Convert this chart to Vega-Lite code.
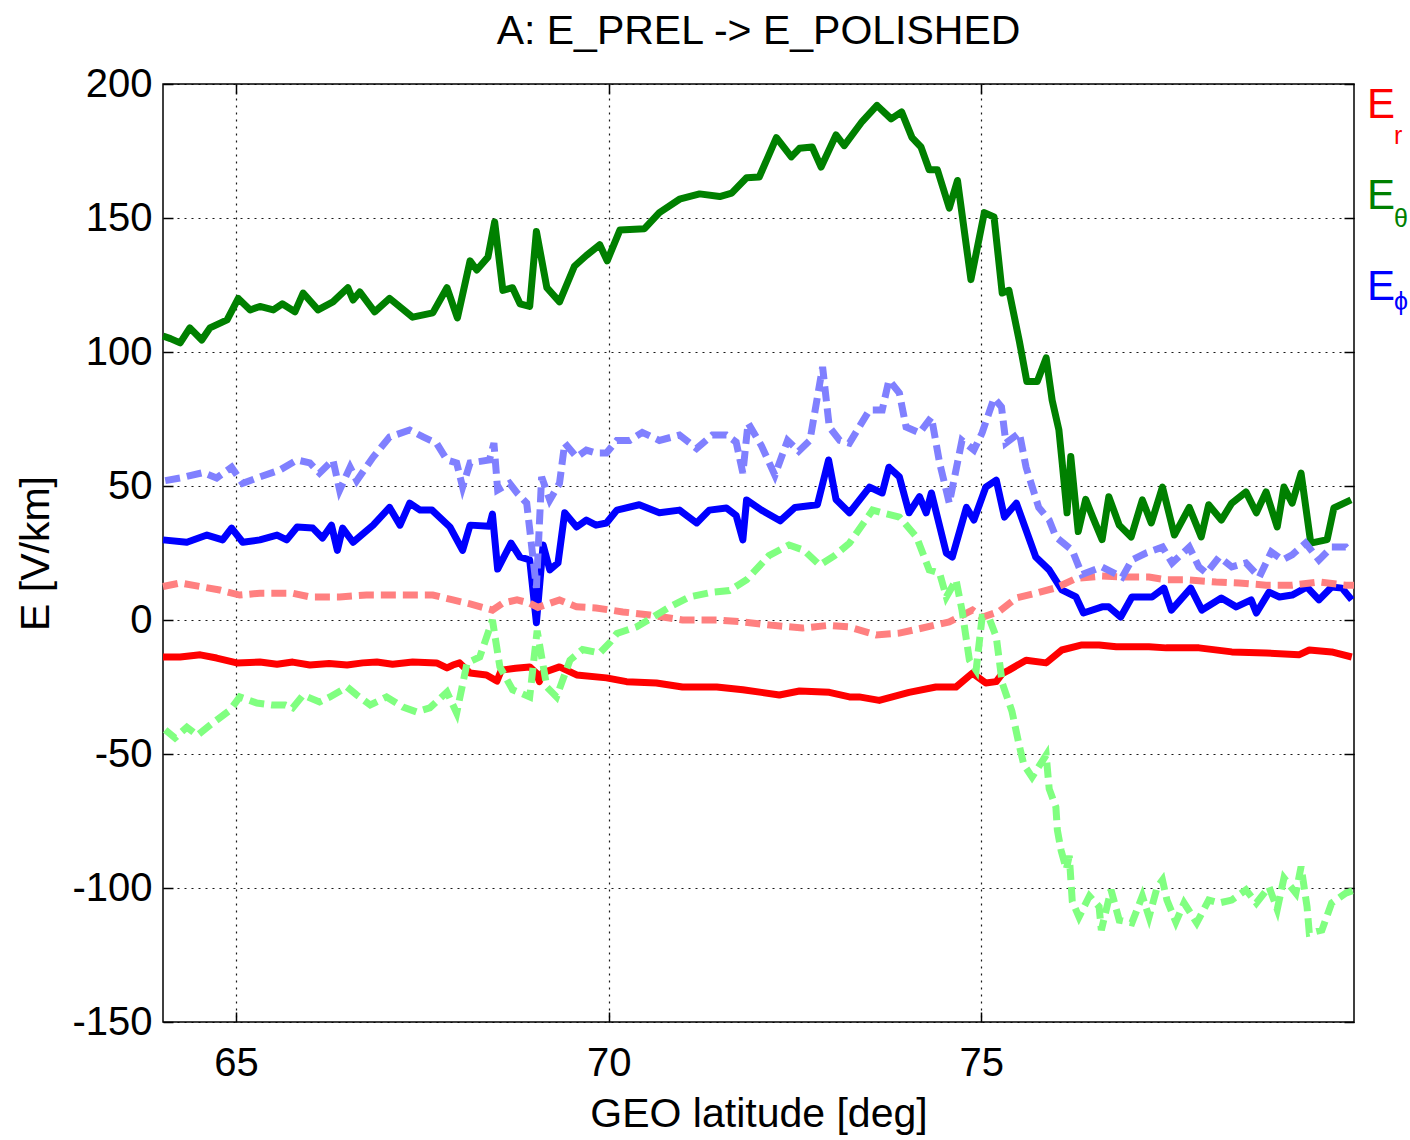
{
  "$schema": "https://vega.github.io/schema/vega-lite/v6.json",
  "width": 1191,
  "height": 938,
  "autosize": {"type": "none"},
  "padding": {"left": 163, "top": 84, "right": 56, "bottom": 118},
  "background": "white",
  "title": {"text": "A: E_PREL -> E_POLISHED", "font": "Liberation Sans", "fontSize": 41, "fontWeight": "normal", "color": "#000000", "anchor": "middle", "frame": "group", "baseline": "alphabetic", "offset": -21},
  "config": {"font": "Liberation Sans", "view": {"stroke": "#000000", "strokeWidth": 1.5}},
  "datasets": {
    "solid": [
      {"lat": 64.02, "E": -13.8, "c": "r"}, {"lat": 64.25, "E": -13.8, "c": "r"}, {"lat": 64.52, "E": -13, "c": "r"}, {"lat": 64.74, "E": -14.2, "c": "r"}, {"lat": 65.01, "E": -16, "c": "r"}, {"lat": 65.32, "E": -15.7, "c": "r"}, {"lat": 65.55, "E": -16.5, "c": "r"}, {"lat": 65.76, "E": -15.7, "c": "r"}, {"lat": 65.99, "E": -16.8, "c": "r"}, {"lat": 66.25, "E": -16.2, "c": "r"}, {"lat": 66.49, "E": -16.8, "c": "r"}, {"lat": 66.7, "E": -16, "c": "r"}, {"lat": 66.89, "E": -15.7, "c": "r"}, {"lat": 67.1, "E": -16.5, "c": "r"}, {"lat": 67.37, "E": -15.7, "c": "r"}, {"lat": 67.69, "E": -16, "c": "r"}, {"lat": 67.83, "E": -17.9, "c": "r"}, {"lat": 67.91, "E": -16.8, "c": "r"}, {"lat": 68.0, "E": -16, "c": "r"}, {"lat": 68.14, "E": -19.8, "c": "r"}, {"lat": 68.36, "E": -20.5, "c": "r"}, {"lat": 68.5, "E": -22.8, "c": "r"}, {"lat": 68.56, "E": -18.7, "c": "r"}, {"lat": 68.75, "E": -18, "c": "r"}, {"lat": 68.94, "E": -17.5, "c": "r"}, {"lat": 69.03, "E": -19.8, "c": "r"}, {"lat": 69.07, "E": -23, "c": "r"}, {"lat": 69.11, "E": -19.8, "c": "r"}, {"lat": 69.34, "E": -17.5, "c": "r"}, {"lat": 69.57, "E": -20.5, "c": "r"}, {"lat": 69.97, "E": -21.6, "c": "r"}, {"lat": 70.24, "E": -23, "c": "r"}, {"lat": 70.64, "E": -23.5, "c": "r"}, {"lat": 70.99, "E": -25, "c": "r"}, {"lat": 71.45, "E": -25, "c": "r"}, {"lat": 71.8, "E": -26, "c": "r"}, {"lat": 72.05, "E": -27, "c": "r"}, {"lat": 72.29, "E": -28, "c": "r"}, {"lat": 72.56, "E": -26.5, "c": "r"}, {"lat": 72.96, "E": -27, "c": "r"}, {"lat": 73.23, "E": -28.7, "c": "r"}, {"lat": 73.36, "E": -28.7, "c": "r"}, {"lat": 73.63, "E": -30, "c": "r"}, {"lat": 74.03, "E": -27, "c": "r"}, {"lat": 74.39, "E": -25, "c": "r"}, {"lat": 74.66, "E": -25, "c": "r"}, {"lat": 74.88, "E": -19.8, "c": "r"}, {"lat": 75.06, "E": -23.5, "c": "r"}, {"lat": 75.2, "E": -23, "c": "r"}, {"lat": 75.28, "E": -20, "c": "r"}, {"lat": 75.37, "E": -18.7, "c": "r"}, {"lat": 75.6, "E": -15, "c": "r"}, {"lat": 75.87, "E": -16, "c": "r"}, {"lat": 76.08, "E": -11.2, "c": "r"}, {"lat": 76.35, "E": -9.3, "c": "r"}, {"lat": 76.58, "E": -9.3, "c": "r"}, {"lat": 76.81, "E": -10, "c": "r"}, {"lat": 77.02, "E": -10, "c": "r"}, {"lat": 77.25, "E": -10, "c": "r"}, {"lat": 77.48, "E": -10.4, "c": "r"}, {"lat": 77.92, "E": -10.4, "c": "r"}, {"lat": 78.36, "E": -11.9, "c": "r"}, {"lat": 78.82, "E": -12.3, "c": "r"}, {"lat": 79.26, "E": -13, "c": "r"}, {"lat": 79.4, "E": -11.2, "c": "r"}, {"lat": 79.7, "E": -11.9, "c": "r"}, {"lat": 79.97, "E": -13.8, "c": "r"},

      {"lat": 64.02, "E": 106, "c": "θ"}, {"lat": 64.12, "E": 105, "c": "θ"}, {"lat": 64.25, "E": 103.4, "c": "θ"}, {"lat": 64.38, "E": 109, "c": "θ"}, {"lat": 64.54, "E": 104.5, "c": "θ"}, {"lat": 64.65, "E": 109, "c": "θ"}, {"lat": 64.88, "E": 112, "c": "θ"}, {"lat": 65.03, "E": 120, "c": "θ"}, {"lat": 65.19, "E": 115.7, "c": "θ"}, {"lat": 65.32, "E": 117, "c": "θ"}, {"lat": 65.5, "E": 115.7, "c": "θ"}, {"lat": 65.62, "E": 118, "c": "θ"}, {"lat": 65.79, "E": 115, "c": "θ"}, {"lat": 65.9, "E": 122, "c": "θ"}, {"lat": 66.1, "E": 115.7, "c": "θ"}, {"lat": 66.3, "E": 118.7, "c": "θ"}, {"lat": 66.5, "E": 124, "c": "θ"}, {"lat": 66.57, "E": 119.4, "c": "θ"}, {"lat": 66.66, "E": 122.4, "c": "θ"}, {"lat": 66.86, "E": 115, "c": "θ"}, {"lat": 67.06, "E": 120, "c": "θ"}, {"lat": 67.37, "E": 113, "c": "θ"}, {"lat": 67.64, "E": 114.6, "c": "θ"}, {"lat": 67.83, "E": 124, "c": "θ"}, {"lat": 67.97, "E": 112.7, "c": "θ"}, {"lat": 68.14, "E": 134, "c": "θ"}, {"lat": 68.23, "E": 130.6, "c": "θ"}, {"lat": 68.38, "E": 135.4, "c": "θ"}, {"lat": 68.47, "E": 148.5, "c": "θ"}, {"lat": 68.58, "E": 123, "c": "θ"}, {"lat": 68.71, "E": 124, "c": "θ"}, {"lat": 68.81, "E": 118, "c": "θ"}, {"lat": 68.94, "E": 117, "c": "θ"}, {"lat": 69.03, "E": 145, "c": "θ"}, {"lat": 69.17, "E": 124, "c": "θ"}, {"lat": 69.34, "E": 118.7, "c": "θ"}, {"lat": 69.54, "E": 132, "c": "θ"}, {"lat": 69.7, "E": 136, "c": "θ"}, {"lat": 69.88, "E": 140, "c": "θ"}, {"lat": 69.98, "E": 134, "c": "θ"}, {"lat": 70.15, "E": 145.5, "c": "θ"}, {"lat": 70.48, "E": 146, "c": "θ"}, {"lat": 70.68, "E": 152, "c": "θ"}, {"lat": 70.95, "E": 157, "c": "θ"}, {"lat": 71.22, "E": 159, "c": "θ"}, {"lat": 71.49, "E": 158, "c": "θ"}, {"lat": 71.65, "E": 159.3, "c": "θ"}, {"lat": 71.85, "E": 165, "c": "θ"}, {"lat": 72.02, "E": 165.3, "c": "θ"}, {"lat": 72.25, "E": 180, "c": "θ"}, {"lat": 72.45, "E": 172.8, "c": "θ"}, {"lat": 72.56, "E": 176, "c": "θ"}, {"lat": 72.73, "E": 176.5, "c": "θ"}, {"lat": 72.85, "E": 169, "c": "θ"}, {"lat": 73.05, "E": 181, "c": "θ"}, {"lat": 73.16, "E": 177, "c": "θ"}, {"lat": 73.4, "E": 186, "c": "θ"}, {"lat": 73.6, "E": 192, "c": "θ"}, {"lat": 73.79, "E": 187, "c": "θ"}, {"lat": 73.93, "E": 189.6, "c": "θ"}, {"lat": 74.07, "E": 180, "c": "θ"}, {"lat": 74.19, "E": 176.5, "c": "θ"}, {"lat": 74.3, "E": 168, "c": "θ"}, {"lat": 74.41, "E": 168, "c": "θ"}, {"lat": 74.57, "E": 153.7, "c": "θ"}, {"lat": 74.68, "E": 164, "c": "θ"}, {"lat": 74.86, "E": 127, "c": "θ"}, {"lat": 75.04, "E": 152, "c": "θ"}, {"lat": 75.17, "E": 150.4, "c": "θ"}, {"lat": 75.28, "E": 122, "c": "θ"}, {"lat": 75.37, "E": 123, "c": "θ"}, {"lat": 75.51, "E": 104, "c": "θ"}, {"lat": 75.61, "E": 89, "c": "θ"}, {"lat": 75.75, "E": 89, "c": "θ"}, {"lat": 75.87, "E": 97.8, "c": "θ"}, {"lat": 75.95, "E": 82, "c": "θ"}, {"lat": 76.04, "E": 71, "c": "θ"}, {"lat": 76.08, "E": 60, "c": "θ"}, {"lat": 76.15, "E": 40, "c": "θ"}, {"lat": 76.2, "E": 61, "c": "θ"}, {"lat": 76.3, "E": 33, "c": "θ"}, {"lat": 76.4, "E": 45, "c": "θ"}, {"lat": 76.5, "E": 38, "c": "θ"}, {"lat": 76.62, "E": 30, "c": "θ"}, {"lat": 76.71, "E": 46, "c": "θ"}, {"lat": 76.85, "E": 35.4, "c": "θ"}, {"lat": 77.01, "E": 31, "c": "θ"}, {"lat": 77.16, "E": 44.8, "c": "θ"}, {"lat": 77.28, "E": 36.2, "c": "θ"}, {"lat": 77.43, "E": 49.6, "c": "θ"}, {"lat": 77.59, "E": 31.7, "c": "θ"}, {"lat": 77.79, "E": 42, "c": "θ"}, {"lat": 77.95, "E": 31, "c": "θ"}, {"lat": 78.05, "E": 43, "c": "θ"}, {"lat": 78.22, "E": 37.3, "c": "θ"}, {"lat": 78.36, "E": 43.6, "c": "θ"}, {"lat": 78.55, "E": 47.8, "c": "θ"}, {"lat": 78.69, "E": 40, "c": "θ"}, {"lat": 78.82, "E": 47.8, "c": "θ"}, {"lat": 78.97, "E": 34.7, "c": "θ"}, {"lat": 79.06, "E": 49.6, "c": "θ"}, {"lat": 79.17, "E": 43.6, "c": "θ"}, {"lat": 79.29, "E": 54.8, "c": "θ"}, {"lat": 79.42, "E": 28.7, "c": "θ"}, {"lat": 79.64, "E": 30, "c": "θ"}, {"lat": 79.73, "E": 41.8, "c": "θ"}, {"lat": 79.96, "E": 44.8, "c": "θ"},

      {"lat": 64.02, "E": 29.9, "c": "φ"}, {"lat": 64.34, "E": 29, "c": "φ"}, {"lat": 64.61, "E": 31.7, "c": "φ"}, {"lat": 64.82, "E": 29.9, "c": "φ"}, {"lat": 64.94, "E": 34.3, "c": "φ"}, {"lat": 65.09, "E": 29, "c": "φ"}, {"lat": 65.32, "E": 29.9, "c": "φ"}, {"lat": 65.55, "E": 31.7, "c": "φ"}, {"lat": 65.68, "E": 29.9, "c": "φ"}, {"lat": 65.82, "E": 34.7, "c": "φ"}, {"lat": 66.03, "E": 34.3, "c": "φ"}, {"lat": 66.16, "E": 30.6, "c": "φ"}, {"lat": 66.28, "E": 35.4, "c": "φ"}, {"lat": 66.36, "E": 26, "c": "φ"}, {"lat": 66.43, "E": 34.3, "c": "φ"}, {"lat": 66.57, "E": 29, "c": "φ"}, {"lat": 66.84, "E": 35.4, "c": "φ"}, {"lat": 67.06, "E": 42, "c": "φ"}, {"lat": 67.2, "E": 35.4, "c": "φ"}, {"lat": 67.33, "E": 43.6, "c": "φ"}, {"lat": 67.47, "E": 41, "c": "φ"}, {"lat": 67.63, "E": 41, "c": "φ"}, {"lat": 67.87, "E": 34.7, "c": "φ"}, {"lat": 68.04, "E": 26, "c": "φ"}, {"lat": 68.14, "E": 35.4, "c": "φ"}, {"lat": 68.4, "E": 35, "c": "φ"}, {"lat": 68.44, "E": 39.5, "c": "φ"}, {"lat": 68.51, "E": 19, "c": "φ"}, {"lat": 68.69, "E": 28.7, "c": "φ"}, {"lat": 68.81, "E": 23.5, "c": "φ"}, {"lat": 68.94, "E": 22.4, "c": "φ"}, {"lat": 69.03, "E": -1, "c": "φ"}, {"lat": 69.12, "E": 28, "c": "φ"}, {"lat": 69.21, "E": 18.7, "c": "φ"}, {"lat": 69.32, "E": 21.3, "c": "φ"}, {"lat": 69.41, "E": 40, "c": "φ"}, {"lat": 69.57, "E": 34.7, "c": "φ"}, {"lat": 69.7, "E": 37.3, "c": "φ"}, {"lat": 69.83, "E": 35.4, "c": "φ"}, {"lat": 69.97, "E": 36.2, "c": "φ"}, {"lat": 70.11, "E": 41, "c": "φ"}, {"lat": 70.41, "E": 43, "c": "φ"}, {"lat": 70.68, "E": 40, "c": "φ"}, {"lat": 70.95, "E": 41, "c": "φ"}, {"lat": 71.18, "E": 36.2, "c": "φ"}, {"lat": 71.35, "E": 41, "c": "φ"}, {"lat": 71.58, "E": 41.8, "c": "φ"}, {"lat": 71.71, "E": 39, "c": "φ"}, {"lat": 71.8, "E": 29.9, "c": "φ"}, {"lat": 71.85, "E": 44.8, "c": "φ"}, {"lat": 72.05, "E": 41, "c": "φ"}, {"lat": 72.3, "E": 37, "c": "φ"}, {"lat": 72.5, "E": 42, "c": "φ"}, {"lat": 72.8, "E": 43, "c": "φ"}, {"lat": 72.95, "E": 59.7, "c": "φ"}, {"lat": 73.05, "E": 45, "c": "φ"}, {"lat": 73.23, "E": 40, "c": "φ"}, {"lat": 73.5, "E": 49.6, "c": "φ"}, {"lat": 73.67, "E": 47.4, "c": "φ"}, {"lat": 73.76, "E": 57, "c": "φ"}, {"lat": 73.9, "E": 53.4, "c": "φ"}, {"lat": 74.03, "E": 40, "c": "φ"}, {"lat": 74.17, "E": 46, "c": "φ"}, {"lat": 74.26, "E": 40, "c": "φ"}, {"lat": 74.33, "E": 47.4, "c": "φ"}, {"lat": 74.53, "E": 25, "c": "φ"}, {"lat": 74.61, "E": 23.5, "c": "φ"}, {"lat": 74.8, "E": 42, "c": "φ"}, {"lat": 74.9, "E": 37.3, "c": "φ"}, {"lat": 75.06, "E": 49.6, "c": "φ"}, {"lat": 75.2, "E": 52.2, "c": "φ"}, {"lat": 75.31, "E": 38.4, "c": "φ"}, {"lat": 75.47, "E": 43.6, "c": "φ"}, {"lat": 75.73, "E": 23.5, "c": "φ"}, {"lat": 75.91, "E": 18.7, "c": "φ"}, {"lat": 76.08, "E": 11.2, "c": "φ"}, {"lat": 76.27, "E": 8.6, "c": "φ"}, {"lat": 76.37, "E": 2.6, "c": "φ"}, {"lat": 76.62, "E": 4.9, "c": "φ"}, {"lat": 76.71, "E": 4.9, "c": "φ"}, {"lat": 76.87, "E": 1.1, "c": "φ"}, {"lat": 77.02, "E": 8.6, "c": "φ"}, {"lat": 77.29, "E": 8.6, "c": "φ"}, {"lat": 77.45, "E": 11.9, "c": "φ"}, {"lat": 77.55, "E": 3.7, "c": "φ"}, {"lat": 77.81, "E": 11.9, "c": "φ"}, {"lat": 77.96, "E": 3.7, "c": "φ"}, {"lat": 78.22, "E": 8.2, "c": "φ"}, {"lat": 78.42, "E": 4.9, "c": "φ"}, {"lat": 78.62, "E": 7.5, "c": "φ"}, {"lat": 78.69, "E": 2.6, "c": "φ"}, {"lat": 78.86, "E": 10.4, "c": "φ"}, {"lat": 79.0, "E": 8.6, "c": "φ"}, {"lat": 79.17, "E": 9.3, "c": "φ"}, {"lat": 79.37, "E": 12.3, "c": "φ"}, {"lat": 79.53, "E": 7.5, "c": "φ"}, {"lat": 79.7, "E": 12.3, "c": "φ"}, {"lat": 79.84, "E": 11.9, "c": "φ"}, {"lat": 79.97, "E": 7.5, "c": "φ"}
    ],
    "dashed": [
      {"lat": 64.02, "E": 12.5, "c": "r"}, {"lat": 64.25, "E": 13.8, "c": "r"}, {"lat": 64.56, "E": 12.3, "c": "r"}, {"lat": 64.78, "E": 11.2, "c": "r"}, {"lat": 65.05, "E": 9.3, "c": "r"}, {"lat": 65.32, "E": 10, "c": "r"}, {"lat": 65.76, "E": 10, "c": "r"}, {"lat": 65.99, "E": 8.6, "c": "r"}, {"lat": 66.39, "E": 8.6, "c": "r"}, {"lat": 66.75, "E": 9.3, "c": "r"}, {"lat": 67.2, "E": 9.3, "c": "r"}, {"lat": 67.64, "E": 9.3, "c": "r"}, {"lat": 67.91, "E": 7.5, "c": "r"}, {"lat": 68.14, "E": 6, "c": "r"}, {"lat": 68.44, "E": 3.7, "c": "r"}, {"lat": 68.58, "E": 6.3, "c": "r"}, {"lat": 68.77, "E": 7.5, "c": "r"}, {"lat": 68.94, "E": 6.3, "c": "r"}, {"lat": 69.05, "E": 4.7, "c": "r"}, {"lat": 69.34, "E": 7.5, "c": "r"}, {"lat": 69.57, "E": 4.9, "c": "r"}, {"lat": 69.83, "E": 4.5, "c": "r"}, {"lat": 70.19, "E": 3, "c": "r"}, {"lat": 70.55, "E": 1.9, "c": "r"}, {"lat": 70.99, "E": 0, "c": "r"}, {"lat": 71.45, "E": 0, "c": "r"}, {"lat": 71.8, "E": -0.7, "c": "r"}, {"lat": 72.2, "E": -2, "c": "r"}, {"lat": 72.6, "E": -3, "c": "r"}, {"lat": 72.95, "E": -2, "c": "r"}, {"lat": 73.23, "E": -2.6, "c": "r"}, {"lat": 73.59, "E": -5.6, "c": "r"}, {"lat": 73.9, "E": -4.9, "c": "r"}, {"lat": 74.21, "E": -3, "c": "r"}, {"lat": 74.57, "E": -0.7, "c": "r"}, {"lat": 74.88, "E": 3.7, "c": "r"}, {"lat": 75.01, "E": 1, "c": "r"}, {"lat": 75.24, "E": 3.2, "c": "r"}, {"lat": 75.47, "E": 8.2, "c": "r"}, {"lat": 75.73, "E": 10, "c": "r"}, {"lat": 76.0, "E": 12, "c": "r"}, {"lat": 76.27, "E": 15.5, "c": "r"}, {"lat": 76.62, "E": 16.4, "c": "r"}, {"lat": 76.98, "E": 16, "c": "r"}, {"lat": 77.25, "E": 16, "c": "r"}, {"lat": 77.48, "E": 15, "c": "r"}, {"lat": 77.74, "E": 15, "c": "r"}, {"lat": 78.15, "E": 14.2, "c": "r"}, {"lat": 78.46, "E": 13.8, "c": "r"}, {"lat": 78.82, "E": 13, "c": "r"}, {"lat": 79.17, "E": 13, "c": "r"}, {"lat": 79.53, "E": 14.2, "c": "r"}, {"lat": 79.89, "E": 13, "c": "r"}, {"lat": 80.0, "E": 13, "c": "r"},

      {"lat": 64.05, "E": -41, "c": "θ"}, {"lat": 64.18, "E": -44, "c": "θ"}, {"lat": 64.34, "E": -40, "c": "θ"}, {"lat": 64.48, "E": -43, "c": "θ"}, {"lat": 64.69, "E": -38.4, "c": "θ"}, {"lat": 64.92, "E": -33.6, "c": "θ"}, {"lat": 65.05, "E": -28.7, "c": "θ"}, {"lat": 65.28, "E": -31, "c": "θ"}, {"lat": 65.48, "E": -31.7, "c": "θ"}, {"lat": 65.66, "E": -31.7, "c": "θ"}, {"lat": 65.76, "E": -32.8, "c": "θ"}, {"lat": 65.9, "E": -28, "c": "θ"}, {"lat": 66.12, "E": -30.6, "c": "θ"}, {"lat": 66.26, "E": -28.7, "c": "θ"}, {"lat": 66.49, "E": -25, "c": "θ"}, {"lat": 66.62, "E": -28, "c": "θ"}, {"lat": 66.8, "E": -31.7, "c": "θ"}, {"lat": 67.02, "E": -28.7, "c": "θ"}, {"lat": 67.24, "E": -32.5, "c": "θ"}, {"lat": 67.42, "E": -34.3, "c": "θ"}, {"lat": 67.6, "E": -32.8, "c": "θ"}, {"lat": 67.83, "E": -26.9, "c": "θ"}, {"lat": 67.96, "E": -34.7, "c": "θ"}, {"lat": 68.1, "E": -16, "c": "θ"}, {"lat": 68.27, "E": -13.8, "c": "θ"}, {"lat": 68.44, "E": 0, "c": "θ"}, {"lat": 68.54, "E": -17.5, "c": "θ"}, {"lat": 68.71, "E": -26, "c": "θ"}, {"lat": 68.94, "E": -28.7, "c": "θ"}, {"lat": 69.04, "E": -4, "c": "θ"}, {"lat": 69.17, "E": -25, "c": "θ"}, {"lat": 69.3, "E": -28.7, "c": "θ"}, {"lat": 69.48, "E": -15, "c": "θ"}, {"lat": 69.65, "E": -11, "c": "θ"}, {"lat": 69.88, "E": -12.3, "c": "θ"}, {"lat": 70.01, "E": -8.6, "c": "θ"}, {"lat": 70.11, "E": -5, "c": "θ"}, {"lat": 70.37, "E": -2.6, "c": "θ"}, {"lat": 70.59, "E": 1, "c": "θ"}, {"lat": 70.82, "E": 4.9, "c": "θ"}, {"lat": 71.08, "E": 8.6, "c": "θ"}, {"lat": 71.39, "E": 10.4, "c": "θ"}, {"lat": 71.62, "E": 11, "c": "θ"}, {"lat": 71.85, "E": 15, "c": "θ"}, {"lat": 72.15, "E": 24, "c": "θ"}, {"lat": 72.42, "E": 28, "c": "θ"}, {"lat": 72.62, "E": 26, "c": "θ"}, {"lat": 72.83, "E": 20.5, "c": "θ"}, {"lat": 73.03, "E": 24, "c": "θ"}, {"lat": 73.23, "E": 28.7, "c": "θ"}, {"lat": 73.54, "E": 41, "c": "θ"}, {"lat": 73.67, "E": 40, "c": "θ"}, {"lat": 73.9, "E": 38.4, "c": "θ"}, {"lat": 74.13, "E": 31, "c": "θ"}, {"lat": 74.3, "E": 18.7, "c": "θ"}, {"lat": 74.44, "E": 17.5, "c": "θ"}, {"lat": 74.53, "E": 8.6, "c": "θ"}, {"lat": 74.66, "E": 15, "c": "θ"}, {"lat": 74.74, "E": 3.7, "c": "θ"}, {"lat": 74.84, "E": -15, "c": "θ"}, {"lat": 74.93, "E": -18.7, "c": "θ"}, {"lat": 75.01, "E": 1, "c": "θ"}, {"lat": 75.1, "E": 1, "c": "θ"}, {"lat": 75.2, "E": -6.3, "c": "θ"}, {"lat": 75.28, "E": -23.5, "c": "θ"}, {"lat": 75.41, "E": -34, "c": "θ"}, {"lat": 75.51, "E": -47, "c": "θ"}, {"lat": 75.57, "E": -54, "c": "θ"}, {"lat": 75.68, "E": -58.6, "c": "θ"}, {"lat": 75.87, "E": -50.4, "c": "θ"}, {"lat": 75.91, "E": -63, "c": "θ"}, {"lat": 76.0, "E": -69.8, "c": "θ"}, {"lat": 76.02, "E": -78.4, "c": "θ"}, {"lat": 76.07, "E": -86, "c": "θ"}, {"lat": 76.14, "E": -93, "c": "θ"}, {"lat": 76.18, "E": -88, "c": "θ"}, {"lat": 76.22, "E": -105, "c": "θ"}, {"lat": 76.31, "E": -110.8, "c": "θ"}, {"lat": 76.45, "E": -103, "c": "θ"}, {"lat": 76.58, "E": -107, "c": "θ"}, {"lat": 76.61, "E": -115.7, "c": "θ"}, {"lat": 76.74, "E": -100.7, "c": "θ"}, {"lat": 76.85, "E": -112, "c": "θ"}, {"lat": 77.02, "E": -113, "c": "θ"}, {"lat": 77.16, "E": -103, "c": "θ"}, {"lat": 77.25, "E": -110.8, "c": "θ"}, {"lat": 77.36, "E": -99.6, "c": "θ"}, {"lat": 77.43, "E": -97, "c": "θ"}, {"lat": 77.49, "E": -104.5, "c": "θ"}, {"lat": 77.61, "E": -112.7, "c": "θ"}, {"lat": 77.72, "E": -105.6, "c": "θ"}, {"lat": 77.89, "E": -113, "c": "θ"}, {"lat": 78.05, "E": -104.5, "c": "θ"}, {"lat": 78.19, "E": -105.6, "c": "θ"}, {"lat": 78.36, "E": -104.5, "c": "θ"}, {"lat": 78.55, "E": -100.7, "c": "θ"}, {"lat": 78.69, "E": -105.6, "c": "θ"}, {"lat": 78.86, "E": -99.6, "c": "θ"}, {"lat": 78.97, "E": -108, "c": "θ"}, {"lat": 79.06, "E": -96.3, "c": "θ"}, {"lat": 79.22, "E": -101.9, "c": "θ"}, {"lat": 79.29, "E": -92, "c": "θ"}, {"lat": 79.37, "E": -107, "c": "θ"}, {"lat": 79.4, "E": -116.8, "c": "θ"}, {"lat": 79.57, "E": -115.7, "c": "θ"}, {"lat": 79.7, "E": -105.6, "c": "θ"}, {"lat": 79.89, "E": -101.9, "c": "θ"}, {"lat": 79.98, "E": -101, "c": "θ"},

      {"lat": 64.05, "E": 52, "c": "φ"}, {"lat": 64.25, "E": 53, "c": "φ"}, {"lat": 64.56, "E": 55, "c": "φ"}, {"lat": 64.74, "E": 53, "c": "φ"}, {"lat": 64.94, "E": 57, "c": "φ"}, {"lat": 65.09, "E": 51, "c": "φ"}, {"lat": 65.32, "E": 53.4, "c": "φ"}, {"lat": 65.59, "E": 56, "c": "φ"}, {"lat": 65.82, "E": 59.7, "c": "φ"}, {"lat": 65.99, "E": 58.6, "c": "φ"}, {"lat": 66.12, "E": 54.8, "c": "φ"}, {"lat": 66.3, "E": 59.7, "c": "φ"}, {"lat": 66.39, "E": 48.5, "c": "φ"}, {"lat": 66.53, "E": 57, "c": "φ"}, {"lat": 66.62, "E": 52, "c": "φ"}, {"lat": 66.84, "E": 60.8, "c": "φ"}, {"lat": 67.06, "E": 68.3, "c": "φ"}, {"lat": 67.33, "E": 70.9, "c": "φ"}, {"lat": 67.51, "E": 68.3, "c": "φ"}, {"lat": 67.69, "E": 66, "c": "φ"}, {"lat": 67.83, "E": 59.7, "c": "φ"}, {"lat": 67.96, "E": 58.6, "c": "φ"}, {"lat": 68.04, "E": 49.6, "c": "φ"}, {"lat": 68.14, "E": 58.6, "c": "φ"}, {"lat": 68.4, "E": 59.7, "c": "φ"}, {"lat": 68.46, "E": 66, "c": "φ"}, {"lat": 68.51, "E": 48.5, "c": "φ"}, {"lat": 68.67, "E": 51, "c": "φ"}, {"lat": 68.77, "E": 47.4, "c": "φ"}, {"lat": 68.9, "E": 43.6, "c": "φ"}, {"lat": 69.03, "E": 12, "c": "φ"}, {"lat": 69.1, "E": 53.4, "c": "φ"}, {"lat": 69.21, "E": 44.8, "c": "φ"}, {"lat": 69.34, "E": 51, "c": "φ"}, {"lat": 69.41, "E": 66, "c": "φ"}, {"lat": 69.57, "E": 60.8, "c": "φ"}, {"lat": 69.7, "E": 63.4, "c": "φ"}, {"lat": 69.83, "E": 62.3, "c": "φ"}, {"lat": 69.97, "E": 62.3, "c": "φ"}, {"lat": 70.11, "E": 67, "c": "φ"}, {"lat": 70.28, "E": 67, "c": "φ"}, {"lat": 70.45, "E": 70, "c": "φ"}, {"lat": 70.68, "E": 67, "c": "φ"}, {"lat": 70.95, "E": 69, "c": "φ"}, {"lat": 71.18, "E": 64, "c": "φ"}, {"lat": 71.39, "E": 69, "c": "φ"}, {"lat": 71.58, "E": 69, "c": "φ"}, {"lat": 71.71, "E": 66.4, "c": "φ"}, {"lat": 71.8, "E": 54.8, "c": "φ"}, {"lat": 71.87, "E": 73.5, "c": "φ"}, {"lat": 72.05, "E": 65, "c": "φ"}, {"lat": 72.23, "E": 54, "c": "φ"}, {"lat": 72.4, "E": 67, "c": "φ"}, {"lat": 72.55, "E": 63, "c": "φ"}, {"lat": 72.7, "E": 67, "c": "φ"}, {"lat": 72.87, "E": 94.4, "c": "φ"}, {"lat": 72.96, "E": 72, "c": "φ"}, {"lat": 73.1, "E": 67, "c": "φ"}, {"lat": 73.23, "E": 66, "c": "φ"}, {"lat": 73.5, "E": 78.4, "c": "φ"}, {"lat": 73.67, "E": 78.4, "c": "φ"}, {"lat": 73.76, "E": 89.5, "c": "φ"}, {"lat": 73.9, "E": 84.7, "c": "φ"}, {"lat": 73.99, "E": 72, "c": "φ"}, {"lat": 74.17, "E": 69.8, "c": "φ"}, {"lat": 74.33, "E": 75.7, "c": "φ"}, {"lat": 74.44, "E": 58.6, "c": "φ"}, {"lat": 74.57, "E": 43.6, "c": "φ"}, {"lat": 74.74, "E": 67, "c": "φ"}, {"lat": 74.9, "E": 63.4, "c": "φ"}, {"lat": 75.01, "E": 69.8, "c": "φ"}, {"lat": 75.17, "E": 82.8, "c": "φ"}, {"lat": 75.27, "E": 79.5, "c": "φ"}, {"lat": 75.33, "E": 66, "c": "φ"}, {"lat": 75.51, "E": 69.8, "c": "φ"}, {"lat": 75.6, "E": 57, "c": "φ"}, {"lat": 75.77, "E": 42, "c": "φ"}, {"lat": 75.91, "E": 37.3, "c": "φ"}, {"lat": 76.0, "E": 31, "c": "φ"}, {"lat": 76.22, "E": 26, "c": "φ"}, {"lat": 76.35, "E": 17, "c": "φ"}, {"lat": 76.62, "E": 19.8, "c": "φ"}, {"lat": 76.89, "E": 16, "c": "φ"}, {"lat": 77.02, "E": 22.4, "c": "φ"}, {"lat": 77.21, "E": 25, "c": "φ"}, {"lat": 77.43, "E": 27.2, "c": "φ"}, {"lat": 77.56, "E": 21.3, "c": "φ"}, {"lat": 77.79, "E": 27.2, "c": "φ"}, {"lat": 77.92, "E": 19.8, "c": "φ"}, {"lat": 78.02, "E": 17.5, "c": "φ"}, {"lat": 78.19, "E": 23.5, "c": "φ"}, {"lat": 78.36, "E": 19.8, "c": "φ"}, {"lat": 78.55, "E": 21.3, "c": "φ"}, {"lat": 78.73, "E": 16, "c": "φ"}, {"lat": 78.89, "E": 25.4, "c": "φ"}, {"lat": 79.04, "E": 22.4, "c": "φ"}, {"lat": 79.17, "E": 24.3, "c": "φ"}, {"lat": 79.35, "E": 28.7, "c": "φ"}, {"lat": 79.53, "E": 22.4, "c": "φ"}, {"lat": 79.7, "E": 27.2, "c": "φ"}, {"lat": 79.89, "E": 27.2, "c": "φ"}, {"lat": 79.96, "E": 25, "c": "φ"}
    ]
  },
  "layer": [
    {
      "data": {"name": "solid"},
      "mark": {"type": "line", "strokeWidth": 7, "strokeJoin": "round"},
      "encoding": {
        "x": {"field": "lat", "type": "quantitative", "title": "GEO latitude [deg]",
          "scale": {"domain": [64.02, 80], "nice": false, "zero": false},
          "axis": {"orient": "bottom", "values": [65, 70, 75], "domain": false, "grid": true, "gridColor": "#000000", "gridDash": [2, 5], "gridWidth": 1.2, "gridOpacity": 0.9, "ticks": true, "tickSize": -10, "tickColor": "#000000", "tickWidth": 1.5, "labelFont": "Liberation Sans", "labelFontSize": 40, "labelColor": "#000000", "labelPadding": 31, "titleFont": "Liberation Sans", "titleFontSize": 41, "titleFontWeight": "normal", "titleColor": "#000000", "titlePadding": 11}},
        "y": {"field": "E", "type": "quantitative", "title": "E [V/km]",
          "scale": {"domain": [-150, 200], "nice": false, "zero": false},
          "axis": {"orient": "left", "values": [-150, -100, -50, 0, 50, 100, 150, 200], "labelExpr": "'' + datum.value", "domain": false, "grid": true, "gridColor": "#000000", "gridDash": [2, 5], "gridWidth": 1.2, "gridOpacity": 0.9, "ticks": true, "tickSize": -10, "tickColor": "#000000", "tickWidth": 1.5, "labelFont": "Liberation Sans", "labelFontSize": 40, "labelColor": "#000000", "labelPadding": 21, "titleFont": "Liberation Sans", "titleFontSize": 41, "titleFontWeight": "normal", "titleColor": "#000000", "titlePadding": 14}},
        "color": {"field": "c", "type": "nominal",
          "scale": {"domain": ["r", "θ", "φ"], "range": ["#ff0000", "#008000", "#0000ff"]},
          "legend": {"orient": "none", "legendX": 1162, "legendY": -20, "direction": "vertical", "title": null, "labelExpr": "'E'", "labelFont": "Liberation Sans", "labelFontSize": 42, "labelBaseline": "top", "labelOffset": 0, "symbolSize": 0, "symbolStrokeWidth": 0, "symbolOpacity": 0, "rowPadding": 29, "padding": 0,
            "encode": {"labels": {"update": {"fill": {"signal": "datum.value === 'r' ? '#ff0000' : (datum.value === 'θ' ? '#008000' : '#0000ff')"}}}}}}
      }
    },
    {
      "data": {"name": "dashed"},
      "mark": {"type": "line", "strokeWidth": 7, "strokeDash": [15, 7]},
      "encoding": {
        "x": {"field": "lat", "type": "quantitative", "title": null,
          "scale": {"domain": [64.02, 80], "nice": false, "zero": false},
          "axis": {"orient": "top", "values": [65, 70, 75], "domain": false, "grid": false, "labels": false, "ticks": true, "tickSize": -10, "tickColor": "#000000", "tickWidth": 1.5, "title": null}},
        "y": {"field": "E", "type": "quantitative", "title": null,
          "scale": {"domain": [-150, 200], "nice": false, "zero": false},
          "axis": {"orient": "right", "values": [-150, -100, -50, 0, 50, 100, 150, 200], "domain": false, "grid": false, "labels": false, "ticks": true, "tickSize": -10, "tickColor": "#000000", "tickWidth": 1.5, "title": null}},
        "color": {"field": "c", "type": "nominal",
          "scale": {"domain": ["r", "θ", "φ"], "range": ["#ff8080", "#80ff80", "#8080ff"]},
          "legend": {"orient": "none", "legendX": 1206, "legendY": 27, "direction": "vertical", "title": null, "labelExpr": "datum.value === 'φ' ? 'ϕ' : datum.value", "labelFont": "Liberation Sans", "labelFontSize": 25, "labelBaseline": "top", "labelOffset": 0, "symbolSize": 0, "symbolStrokeWidth": 0, "symbolOpacity": 0, "rowPadding": 45, "padding": 0,
            "encode": {"labels": {"update": {"fill": {"signal": "datum.value === 'r' ? '#ff0000' : (datum.value === 'θ' ? '#008000' : '#0000ff')"}}}}}}
      }
    }
  ],
  "resolve": {"scale": {"color": "independent"}, "axis": {"x": "independent", "y": "independent"}}
}
